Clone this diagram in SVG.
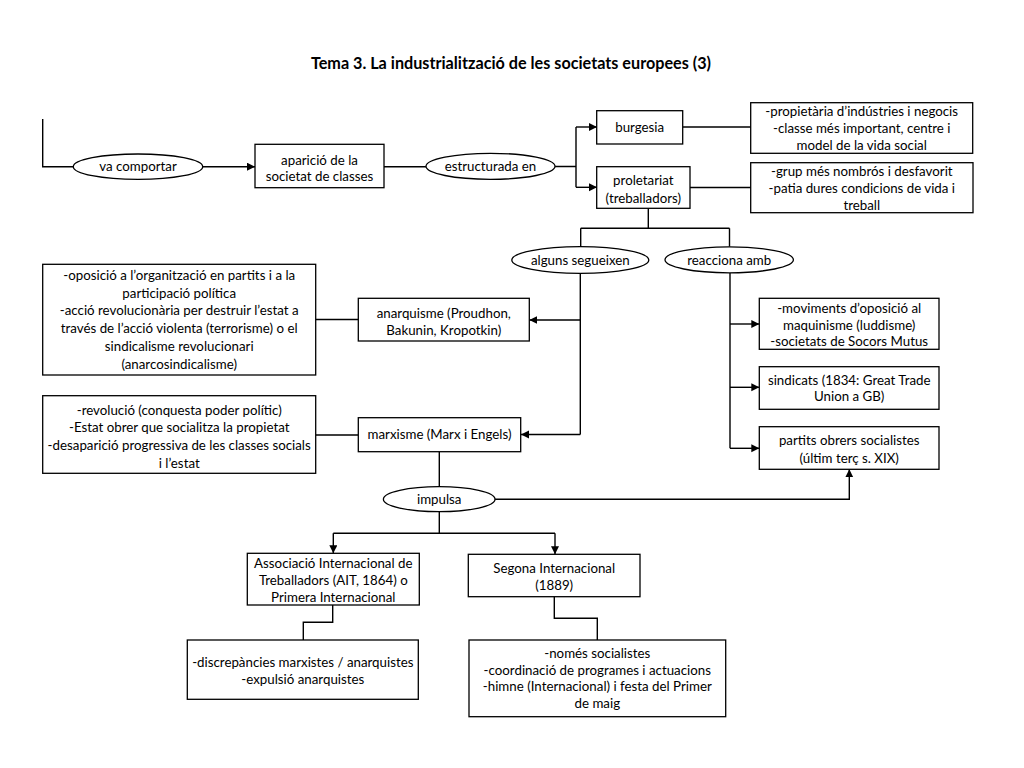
<svg xmlns="http://www.w3.org/2000/svg" width="1024" height="768" viewBox="0 0 1024 768">
<style>
  .bg{fill:#ffffff}
  .box{fill:#ffffff;stroke:#000000;stroke-width:1.3}
  .ell{fill:#ffffff;stroke:#000000;stroke-width:1.3}
  .ln{fill:none;stroke:#000000;stroke-width:1.4}
  .t{font-family:Lato,"Liberation Sans",sans-serif;font-size:13.3px;fill:#000000;text-anchor:middle}
  .title{font-family:Lato,"Liberation Sans",sans-serif;font-size:16.2px;font-weight:bold;fill:#000000;text-anchor:middle}
</style>
<defs>
  <marker id="arr" markerUnits="userSpaceOnUse" markerWidth="9" markerHeight="9" refX="8" refY="4" orient="auto">
    <path d="M0,0 L8,4 L0,8 z" fill="#000000"/>
  </marker>
</defs>
<rect class="bg" x="0" y="0" width="1024" height="768"/>
<text class="title" x="511" y="69">Tema 3. La industrialització de les societats europees (3)</text>

<g id="connectors">
  <path class="ln" d="M42.7,119 V166.7 H73"/>
  <path class="ln" d="M203,166.7 H255" marker-end="url(#arr)"/>
  <path class="ln" d="M384,166.7 H426"/>
  <path class="ln" d="M555,166.5 H576 M576,127 V187.3"/>
  <path class="ln" d="M576,127 H597" marker-end="url(#arr)"/>
  <path class="ln" d="M576,187.3 H597" marker-end="url(#arr)"/>
  <path class="ln" d="M683,127 H751"/>
  <path class="ln" d="M690,187.5 H751"/>
  <path class="ln" d="M648.3,208.3 V228.3 M580.7,228.3 H729.5 M580.7,228.3 V246.7 M729.5,228.3 V246.7"/>
  <path class="ln" d="M580.3,273.3 V434.5"/>
  <path class="ln" d="M580.3,320 H529.3" marker-end="url(#arr)"/>
  <path class="ln" d="M580.3,434.5 H521" marker-end="url(#arr)"/>
  <path class="ln" d="M316,319.5 H358.3 M316,435 H358.3"/>
  <path class="ln" d="M730,273 V448.3"/>
  <path class="ln" d="M730,324 H759.3" marker-end="url(#arr)"/>
  <path class="ln" d="M730,387.3 H759.3" marker-end="url(#arr)"/>
  <path class="ln" d="M730,448.3 H759.3" marker-end="url(#arr)"/>
  <path class="ln" d="M439.3,452 V486.7"/>
  <path class="ln" d="M495,499.3 H849.3 V469.3" marker-end="url(#arr)"/>
  <path class="ln" d="M439.3,511.7 V533.3 M333.3,533.3 H555"/>
  <path class="ln" d="M333.3,533.3 V553.3" marker-end="url(#arr)"/>
  <path class="ln" d="M555,533.3 V554.3" marker-end="url(#arr)"/>
  <path class="ln" d="M332.7,605 V622.3 H303.3 V640"/>
  <path class="ln" d="M554.3,596.7 V618.3 H597.3 V640"/>
</g>

<g id="va-comportar">
  <ellipse class="ell" cx="138" cy="166.7" rx="64.7" ry="12.7"/>
  <text class="t" x="138" y="171.3">va comportar</text>
</g>
<g id="aparicio">
  <rect class="box" x="255" y="144.3" width="129" height="43.4"/>
  <text class="t" x="319.5" y="164.8">aparició de la</text>
  <text class="t" x="319.5" y="180.8">societat de classes</text>
</g>
<g id="estructurada">
  <ellipse class="ell" cx="490.5" cy="166.3" rx="64.5" ry="13"/>
  <text class="t" x="490.5" y="171">estructurada en</text>
</g>
<g id="burgesia">
  <rect class="box" x="596.7" y="110.7" width="86" height="33.3"/>
  <text class="t" x="639.7" y="132.2">burgesia</text>
</g>
<g id="proletariat">
  <rect class="box" x="596.7" y="166.7" width="93.3" height="41.6"/>
  <text class="t" x="643.3" y="184.8">proletariat</text>
  <text class="t" x="643.3" y="203.2">(treballadors)</text>
</g>
<g id="burgesia-desc">
  <rect class="box" x="750.7" y="102.7" width="222" height="50.6"/>
  <text class="t" x="861.7" y="116.2">-propietària d’indústries i negocis</text>
  <text class="t" x="861.7" y="132.9">-classe més important, centre i</text>
  <text class="t" x="861.7" y="149.6">model de la vida social</text>
</g>
<g id="proletariat-desc">
  <rect class="box" x="750.7" y="162.7" width="222.3" height="50"/>
  <text class="t" x="861.8" y="176.2">-grup més nombrós i desfavorit</text>
  <text class="t" x="861.8" y="192.9">-patia dures condicions de vida i</text>
  <text class="t" x="861.8" y="209.6">treball</text>
</g>
<g id="alguns-segueixen">
  <ellipse class="ell" cx="580.3" cy="260" rx="68.5" ry="13.3"/>
  <text class="t" x="580.3" y="264.7">alguns segueixen</text>
</g>
<g id="reacciona-amb">
  <ellipse class="ell" cx="729.2" cy="259.8" rx="64.2" ry="13"/>
  <text class="t" x="729.2" y="264.5">reacciona amb</text>
</g>
<g id="anarquisme-desc">
  <rect class="box" x="42.7" y="264.3" width="273" height="110.7"/>
  <text class="t" x="179.2" y="279.7">-oposició a l’organització en partits i a la</text>
  <text class="t" x="179.2" y="297.5">participació política</text>
  <text class="t" x="179.2" y="315.3">-acció revolucionària per destruir l’estat a</text>
  <text class="t" x="179.2" y="333.1">través de l’acció violenta (terrorisme) o el</text>
  <text class="t" x="179.2" y="350.9">sindicalisme revolucionari</text>
  <text class="t" x="179.2" y="368.7">(anarcosindicalisme)</text>
</g>
<g id="anarquisme">
  <rect class="box" x="358.3" y="298.3" width="171" height="42.7"/>
  <text class="t" x="443.8" y="318.2">anarquisme (Proudhon,</text>
  <text class="t" x="443.8" y="334.7">Bakunin, Kropotkin)</text>
</g>
<g id="marxisme-desc">
  <rect class="box" x="42.7" y="395.7" width="273" height="77.6"/>
  <text class="t" x="179.2" y="414.7">-revolució (conquesta poder polític)</text>
  <text class="t" x="179.2" y="432.4">-Estat obrer que socialitza la propietat</text>
  <text class="t" x="179.2" y="450.2">-desaparició progressiva de les classes socials</text>
  <text class="t" x="179.2" y="467.9">i l’estat</text>
</g>
<g id="marxisme">
  <rect class="box" x="358.3" y="417.7" width="162.4" height="34"/>
  <text class="t" x="439.5" y="439.2">marxisme (Marx i Engels)</text>
</g>
<g id="moviments">
  <rect class="box" x="759.3" y="298.3" width="179.7" height="51"/>
  <text class="t" x="849.2" y="313.2">-moviments d’oposició al</text>
  <text class="t" x="849.2" y="329.8">maquinisme (luddisme)</text>
  <text class="t" x="849.2" y="346.4">-societats de Socors Mutus</text>
</g>
<g id="sindicats">
  <rect class="box" x="759.3" y="366.7" width="179.7" height="42.6"/>
  <text class="t" x="849.2" y="384.7">sindicats (1834: Great Trade</text>
  <text class="t" x="849.2" y="401.4">Union a GB)</text>
</g>
<g id="partits">
  <rect class="box" x="759.3" y="426.7" width="179.7" height="42.6"/>
  <text class="t" x="849.2" y="444.7">partits obrers socialistes</text>
  <text class="t" x="849.2" y="463">(últim terç s. XIX)</text>
</g>
<g id="impulsa">
  <ellipse class="ell" cx="439.2" cy="499.2" rx="55.8" ry="12.5"/>
  <text class="t" x="439.2" y="503.9">impulsa</text>
</g>
<g id="ait">
  <rect class="box" x="247.3" y="553.3" width="172" height="51.7"/>
  <text class="t" x="333.3" y="568.2">Associació Internacional de</text>
  <text class="t" x="333.3" y="585.2">Treballadors (AIT, 1864) o</text>
  <text class="t" x="333.3" y="602.2">Primera Internacional</text>
</g>
<g id="segona">
  <rect class="box" x="468.3" y="554.3" width="171.7" height="42.4"/>
  <text class="t" x="554.2" y="573">Segona Internacional</text>
  <text class="t" x="554.2" y="589.7">(1889)</text>
</g>
<g id="ait-desc">
  <rect class="box" x="187.3" y="640" width="231" height="59.3"/>
  <text class="t" x="302.8" y="667">-discrepàncies marxistes / anarquistes</text>
  <text class="t" x="302.8" y="684">-expulsió anarquistes</text>
</g>
<g id="segona-desc">
  <rect class="box" x="469" y="640" width="256.7" height="76.7"/>
  <text class="t" x="597.3" y="658">-només socialistes</text>
  <text class="t" x="597.3" y="674.7">-coordinació de programes i actuacions</text>
  <text class="t" x="597.3" y="691.4">-himne (Internacional) i festa del Primer</text>
  <text class="t" x="597.3" y="708.1">de maig</text>
</g>
</svg>
